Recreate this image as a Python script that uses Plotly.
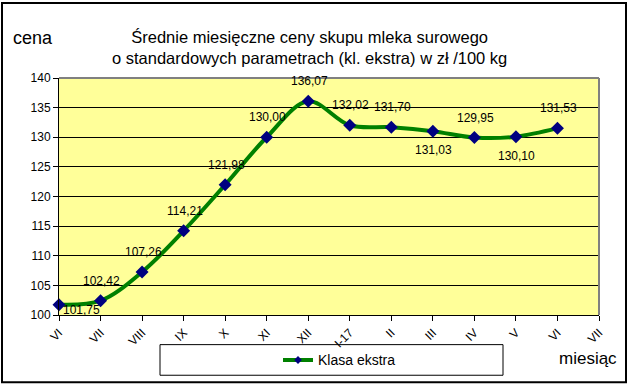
import plotly.graph_objects as go

categories = ["VI", "VII", "VIII", "IX", "X", "XI", "XII", "I-17", "II", "III", "IV", "V", "VI", "VII"]
values = [101.75, 102.42, 107.26, 114.21, 121.98, 130.00, 136.07, 132.02, 131.70, 131.03, 129.95, 130.10, 131.53]
labels = ["101,75", "102,42", "107,26", "114,21", "121,98", "130,00", "136,07", "132,02", "131,70", "131,03", "129,95", "130,10", "131,53"]
label_side = ["right", "above", "above", "above", "above", "above", "above",
              "above", "above", "below", "above", "below", "above"]
series_name = "Klasa ekstra"
y_ticks = [100, 105, 110, 115, 120, 125, 130, 135, 140]

FONT = "Liberation Sans, Arial, sans-serif"
L, R, T, B = 59, 599, 78, 318
W, H = 628, 388
def px(x):
    return (x - L) / (R - L)
def py(y):
    return (B - y) / (B - T)

x_idx = list(range(len(values)))

fig = go.Figure()
fig.add_trace(go.Scatter(
    x=x_idx, y=values, name=series_name, showlegend=False,
    mode="lines+markers",
    line=dict(color="#008000", width=4, shape="spline", smoothing=1.0),
    marker=dict(symbol="diamond", color="#000080", size=10),
    cliponaxis=False, hoverinfo="skip",
))
# legend entry (smaller marker as in reference)
fig.add_trace(go.Scatter(
    x=[None], y=[None], name=series_name, showlegend=True,
    mode="lines+markers",
    line=dict(color="#008000", width=4),
    marker=dict(symbol="diamond", color="#000080", size=6),
))

shapes = [
    dict(type="line", xref="paper", yref="paper", x0=0, x1=1, y0=1, y1=1, line=dict(color="#808080", width=2), layer="above"),
    dict(type="line", xref="paper", yref="paper", x0=1, x1=1, y0=0, y1=1, line=dict(color="#808080", width=2), layer="above"),
    dict(type="rect", xref="paper", yref="paper", x0=px(2), x1=px(626), y0=py(386), y1=py(2),
         line=dict(color="#000000", width=2), fillcolor="rgba(0,0,0,0)"),
    dict(type="rect", xref="paper", yref="paper", x0=px(160), x1=px(503), y0=py(379), y1=py(348),
         line=dict(color="#000000", width=1), fillcolor="rgba(0,0,0,0)"),
]

annotations = [
    dict(text="Średnie miesięczne ceny skupu mleka surowego<br>o standardowych parametrach (kl. ekstra) w zł /100 kg",
         xref="paper", yref="paper", x=px(309), y=py(47), xanchor="center", yanchor="middle",
         showarrow=False, font=dict(family=FONT, size=16.5, color="#000000")),
    dict(text="cena", xref="paper", yref="paper", x=px(33), y=py(38), xanchor="center", yanchor="middle",
         showarrow=False, font=dict(family=FONT, size=18, color="#000000")),
    dict(text="miesiąc", xref="paper", yref="paper", x=px(588), y=py(362), xanchor="center", yanchor="middle",
         showarrow=False, font=dict(family=FONT, size=17, color="#000000")),
]
for xi, v, t, side in zip(x_idx, values, labels, label_side):
    if side == "above":
        xs, ys = 1, 20
    elif side == "below":
        xs, ys = 1, -19
    else:
        xs, ys = 22, -5
    annotations.append(dict(text=t, x=xi, y=v, xref="x", yref="y", showarrow=False,
                            xanchor="center", yanchor="middle", xshift=xs, yshift=ys,
                            font=dict(family=FONT, size=12, color="#000000")))

fig.update_layout(
    width=W, height=H,
    margin=dict(l=L, r=W - R, t=T, b=H - B, pad=0),
    paper_bgcolor="#FFFFFF", plot_bgcolor="#FFFF99",
    font=dict(family=FONT, size=12, color="#000000"),
    showlegend=True,
    legend=dict(orientation="h", x=px(278), y=py(364), xanchor="left", yanchor="middle",
                bgcolor="rgba(0,0,0,0)", font=dict(family=FONT, size=14, color="#000000")),
    shapes=shapes, annotations=annotations,
)
fig.update_xaxes(
    range=[0, len(categories) - 1], tickmode="array", tickvals=list(range(len(categories))), ticktext=categories,
    tickangle=-45, showgrid=False, showline=True, linecolor="#000000", linewidth=1,
    ticks="outside", ticklen=5, tickcolor="#000000", zeroline=False,
    tickfont=dict(family=FONT, size=12, color="#000000"),
)
fig.update_yaxes(
    range=[100, 140], tickmode="array", tickvals=y_ticks,
    showgrid=True, gridcolor="#000000", gridwidth=1,
    showline=True, linecolor="#000000", linewidth=1,
    ticks="outside", ticklen=5, tickcolor="#000000", zeroline=False,
    tickfont=dict(family=FONT, size=12, color="#000000"),
)

fig.write_html("out.html", config={"displayModeBar": False},
               post_script="document.body.style.margin='0px';")
